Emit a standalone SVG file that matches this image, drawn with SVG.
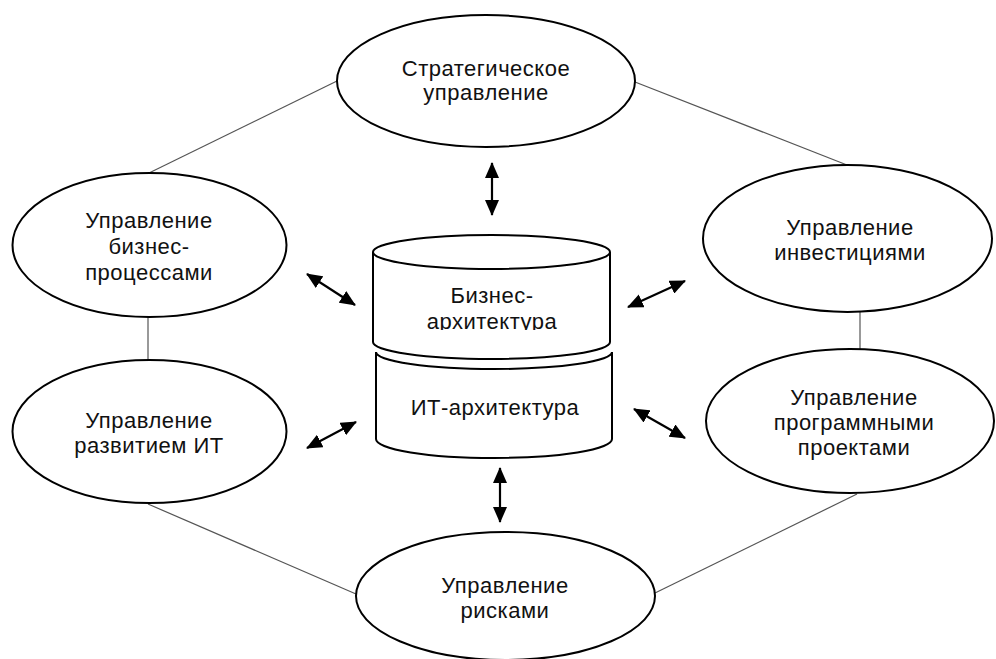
<svg xmlns="http://www.w3.org/2000/svg" width="996" height="659" viewBox="0 0 996 659">
<style>
.node{fill:#fff;stroke:#000;stroke-width:2}
.lbl{font-family:"Liberation Sans",Arial,sans-serif;font-size:22px;fill:#111;text-anchor:middle;letter-spacing:0.5px}
.link{stroke:#555;stroke-width:1.2;fill:none}
.arr{stroke:#000;stroke-width:2.2;fill:none;marker-start:url(#ah);marker-end:url(#ah)}
</style>
<defs>
<marker id="ah" markerUnits="userSpaceOnUse" markerWidth="16" markerHeight="14" viewBox="0 0 16 14" refX="15" refY="7" orient="auto-start-reverse">
<path d="M0,0 L16,7 L0,14 z" fill="#000"/>
</marker>
<clipPath id="clipTop"><rect x="360" y="220" width="270" height="110"/></clipPath>
</defs>
<rect width="996" height="659" fill="#fff"/>
<g id="connectors">
<line class="link" x1="337" y1="81" x2="149" y2="173"/>
<line class="link" x1="635" y1="82" x2="847" y2="165"/>
<line class="link" x1="148" y1="317" x2="148" y2="360"/>
<line class="link" x1="860" y1="312" x2="860" y2="349"/>
<line class="link" x1="148" y1="504" x2="356" y2="594"/>
<line class="link" x1="655" y1="593" x2="857" y2="494"/>
<line class="arr" x1="492" y1="163" x2="492" y2="215"/>
<line class="arr" x1="500" y1="468" x2="500" y2="522"/>
<line class="arr" x1="307" y1="274" x2="355" y2="305"/>
<line class="arr" x1="307" y1="448" x2="356" y2="422"/>
<line class="arr" x1="628" y1="307" x2="685" y2="281"/>
<line class="arr" x1="634" y1="409" x2="685" y2="438"/>
</g>
<g id="strategic">
<ellipse class="node" cx="486" cy="81" rx="149" ry="66"/>
<text class="lbl" x="486" y="76">Стратегическое</text>
<text class="lbl" x="486" y="100">управление</text>
</g>
<g id="bp">
<ellipse class="node" cx="149.5" cy="245" rx="137" ry="72"/>
<text class="lbl" x="149" y="228">Управление</text>
<text class="lbl" x="149" y="254">бизнес-</text>
<text class="lbl" x="149" y="280">процессами</text>
</g>
<g id="itdev">
<ellipse class="node" cx="149.5" cy="431.5" rx="137" ry="71.5"/>
<text class="lbl" x="149" y="428">Управление</text>
<text class="lbl" x="149" y="453">развитием ИТ</text>
</g>
<g id="invest">
<ellipse class="node" cx="847.5" cy="238.5" rx="144.5" ry="73.5"/>
<text class="lbl" x="850" y="235">Управление</text>
<text class="lbl" x="850" y="260">инвестициями</text>
</g>
<g id="programs">
<ellipse class="node" cx="850" cy="421" rx="144" ry="72"/>
<text class="lbl" x="854" y="405">Управление</text>
<text class="lbl" x="854" y="430">программными</text>
<text class="lbl" x="854" y="455">проектами</text>
</g>
<g id="risks">
<ellipse class="node" cx="505.5" cy="596" rx="149.5" ry="64"/>
<text class="lbl" x="505" y="593">Управление</text>
<text class="lbl" x="505" y="618">рисками</text>
</g>
<g id="it-arch">
<path class="node" d="M376,352 L376,439 A118 19 0 0 0 612,439 L612,352 A118 17 0 0 1 376,352 Z"/>
<text class="lbl" x="495" y="415">ИТ-архитектура</text>
</g>
<g id="business-arch">
<path class="node" d="M373,252 L373,342 A118.5 17 0 0 0 610,342 L610,252 A118.5 17 0 0 0 373,252 Z"/>
<path class="node" d="M373,252 A118.5 17 0 0 0 610,252" fill="none"/>
<g clip-path="url(#clipTop)">
<text class="lbl" x="492" y="303">Бизнес-</text>
<text class="lbl" x="492" y="329">архитектура</text>
</g>
</g>
</svg>
